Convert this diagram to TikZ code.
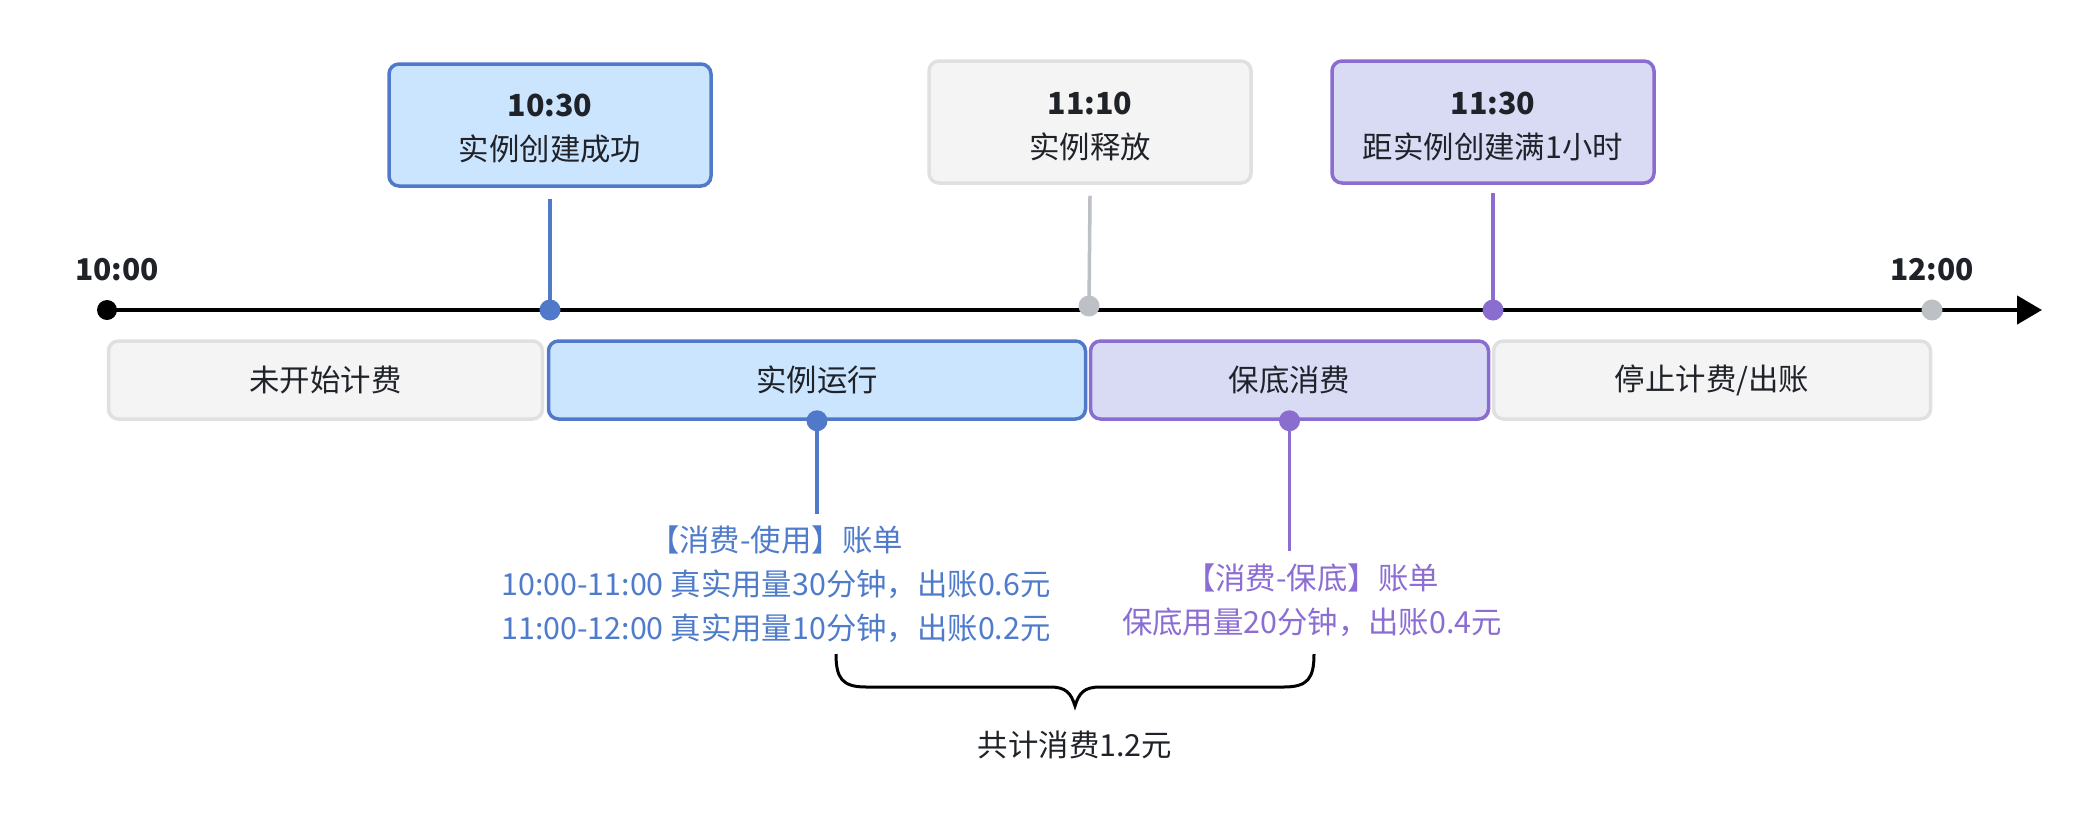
\documentclass[tikz,border=0pt]{standalone}
\usepackage{fontspec}
\setmainfont{Noto Sans CJK SC}
\usetikzlibrary{arrows.meta,backgrounds}
\definecolor{bluefill}{HTML}{CCE5FF}
\definecolor{blueline}{HTML}{5079CA}
\definecolor{bluetext}{HTML}{4F7BCB}
\definecolor{purfill}{HTML}{D9DBF5}
\definecolor{purline}{HTML}{8A6DCF}
\definecolor{purtext}{HTML}{8B6DD4}
\definecolor{grayfill}{HTML}{F4F4F4}
\definecolor{grayline}{HTML}{DFE0E2}
\definecolor{graydot}{HTML}{BDC0C4}
\definecolor{darktext}{HTML}{1F2329}
\tikzset{
  txt/.style={font=\fontsize{30.4}{44}\selectfont, text=darktext, align=center, inner sep=0pt},
  card/.style={rounded corners=10pt, line width=3.5pt, minimum width=322pt, minimum height=122pt, inner sep=0pt},
  bar/.style={txt, rounded corners=10pt, line width=3.5pt, minimum height=78pt},
  bluebox/.style={draw=blueline, fill=bluefill},
  purbox/.style={draw=purline, fill=purfill},
  graybox/.style={draw=grayline, fill=grayfill},
  dot/.style={circle, inner sep=0pt, minimum size=21pt},
  conn/.style={line width=3.5pt},
}
\begin{document}
\begin{tikzpicture}[x=1pt,y=-1pt]
\useasboundingbox (0,0) rectangle (2092,814);

% top cards
\node[card, bluebox] (A) at (550,125) {};
\node[card, graybox] (B) at (1090,122) {};
\node[card, purbox] (C) at (1493,122) {};
\node[txt] (Atext) at ([yshift=-4pt]A.center) {{\bfseries 10:30}\\实例创建成功};
\node[txt] (Btext) at ([yshift=-4pt]B.center) {{\bfseries 11:10}\\实例释放};
\node[txt] (Ctext) at ([yshift=-4pt]C.center) {{\bfseries 11:30}\\距实例创建满1小时};

% time labels
\node[txt, font=\fontsize{30}{36}\selectfont\bfseries] (t0) at (117,270) {10:00};
\node[txt, font=\fontsize{30}{36}\selectfont\bfseries] (t1) at (1932,270) {12:00};

% bottom bars
\node[bar, graybox, minimum width=434pt] (S1) at (325.5,380) {未开始计费};
\node[bar, bluebox, minimum width=537pt] (S2) at (817,380) {实例运行};
\node[bar, purbox, minimum width=398pt] (S3) at (1289.5,380) {保底消费};
\node[bar, graybox, minimum width=437pt] (S4) at (1712,380) {停止计费/出账};

% dots on timeline
\node[dot, fill=black, minimum size=20pt] (d0) at (107,310) {};
\node[dot, fill=blueline] (d1) at (550,310) {};
\node[dot, fill=graydot] (d2) at (1089,306) {};
\node[dot, fill=purline] (d3) at (1493,310) {};
\node[dot, fill=graydot] (d4) at (1932,310) {};
\coordinate (tip) at (2042,310);

% dots on bars
\node[dot, fill=blueline] (e1) at (S2.south) {};
\node[dot, fill=purline] (e2) at (S3.south) {};
\coordinate (e1end) at (817,514);
\coordinate (e2end) at (1289.5,551);

\begin{scope}[on background layer]
\fill[white] (0,0) rectangle (2092,814);
\draw[line width=4.5pt, -{Triangle[length=25pt,width=28pt]}] (d0.center) -- (tip);
\draw[conn, blueline] ([yshift=-11pt]A.south) -- (d1.center);
\draw[conn, graydot] ([yshift=-11pt]B.south) -- (d2.center);
\draw[conn, purline] ([yshift=-8pt]C.south) -- (d3.center);
\draw[conn, blueline] (e1.center) -- (e1end);
\draw[conn, purline] (e2.center) -- (e2end);
\end{scope}

% bills
\node[txt, text=bluetext] (bill1) at (776,584) {【消费-使用】账单\\10:00-11:00 真实用量30分钟，出账0.6元\\11:00-12:00 真实用量10分钟，出账0.2元};
\node[txt, text=purtext] (bill2) at (1312,600) {【消费-保底】账单\\保底用量20分钟，出账0.4元};

% brace
\coordinate (bl) at (836,654);
\coordinate (br) at (1314,654);
\coordinate (bm) at (1075,706);
\draw[line width=3pt] (bl) .. controls (836,678) and (842,687) .. (866,687) -- (1050,687)
  .. controls (1066,687) and (1071,693) .. (bm)
  .. controls (1079,693) and (1084,687) .. (1100,687) -- (1284,687)
  .. controls (1308,687) and (1314,678) .. (br);

\node[txt] (total) at (1075,745) {共计消费1.2元};
\end{tikzpicture}
\end{document}
